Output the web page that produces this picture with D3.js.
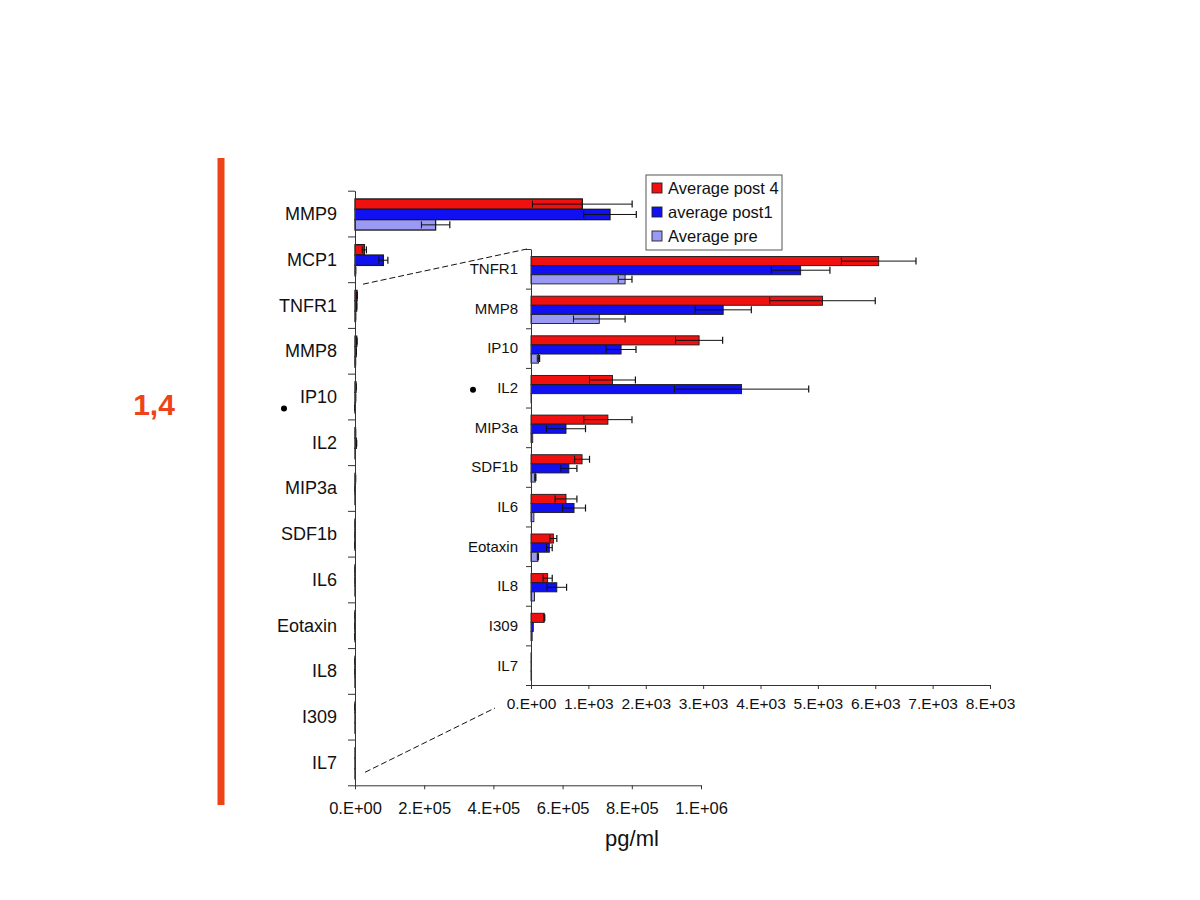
<!DOCTYPE html>
<html><head><meta charset="utf-8">
<script src="https://cdn.jsdelivr.net/npm/d3@7"></script>
<style>
html,body{margin:0;padding:0;background:#fff;}
svg{display:block;font-family:"Liberation Sans",Arial,sans-serif;}
</style></head>
<body>
<svg id="chart" width="1200" height="900"></svg>
<script>
// ---------------- data ----------------
const categories = ["MMP9","MCP1","TNFR1","MMP8","IP10","IL2","MIP3a","SDF1b","IL6","Eotaxin","IL8","I309","IL7"];
const insetCategories = categories.slice(2);
const seriesNames = ["Average post 4","average post1","Average pre"];
const post4    = [657000, 27000, 6060, 5080, 2930, 1420, 1340, 890, 610, 390, 290, 230, 10];
const post4Err = [144000,  6000,  650,  920,  410,  400,  420, 130, 190,  60,  80,  10,  0];
const post1    = [737000, 82000, 4700, 3350, 1570, 3670,  610, 660, 750, 320, 450,  40,  5];
const post1Err = [ 76000, 13000,  510,  490,  260, 1170,  340, 140, 200,  50, 170,   0,  0];
const pre      = [233000,  1500, 1640, 1190,  130,   10,   30,  75,  50, 120,  60,  20, 10];
const preErr   = [ 41000,   500,  120,  450,   20,    0,    0,  10,   0,  10,   0,   0,  0];
const mainTicks = [0, 200000, 400000, 600000, 800000, 1000000];
const mainTickLabels = ["0.E+00","2.E+05","4.E+05","6.E+05","8.E+05","1.E+06"];
const insetTicks = [0,1000,2000,3000,4000,5000,6000,7000,8000];
const insetTickLabels = ["0.E+00","1.E+03","2.E+03","3.E+03","4.E+03","5.E+03","6.E+03","7.E+03","8.E+03"];
const xLabel = "pg/ml";
const sideLabel = "1,4";

const colors = ["#f01010","#1010f0","#9a9af5"];
const seriesVals = [post4, post1, pre];
const seriesErrs = [post4Err, post1Err, preErr];

const rows = categories.map((c,i)=>({cat:c, vals:seriesVals.map(s=>s[i]), errs:seriesErrs.map(s=>s[i])}));

const svg = d3.select("#chart");

// side decoration
svg.append("line").attr("x1",221).attr("x2",221).attr("y1",158).attr("y2",805)
  .attr("stroke","#ee4317").attr("stroke-width",7);
svg.append("text").attr("x",154).attr("y",415).attr("text-anchor","middle")
  .attr("font-size",30).attr("font-weight","bold").attr("fill","#ee4317").text(sideLabel);

function drawChart(g, cats, x, yTop, yBot, opts){
  const y = d3.scaleBand().domain(cats).range([yTop,yBot]).padding(0);
  const bw = y.bandwidth();
  const ys = d3.scaleBand().domain([0,1,2]).range([bw*opts.gStart, bw*(opts.gStart+opts.gFrac)]).padding(0);
  const data = rows.filter(r=>cats.includes(r.cat));
  const grp = g.selectAll("g.cat").data(data).join("g").attr("class","cat")
    .attr("transform",d=>`translate(0,${y(d.cat)})`);
  grp.selectAll("rect").data(d=>d.vals.map((v,k)=>({v,k}))).join("rect")
    .attr("x",x(0)).attr("y",d=>ys(d.k)).attr("height",ys.bandwidth())
    .attr("width",d=>Math.max(0,x(d.v)-x(0)))
    .attr("fill",d=>colors[d.k]).attr("stroke","#1a1a1a").attr("stroke-width",opts.barStroke);
  const eb = grp.selectAll("g.err").data(d=>d.vals.map((v,k)=>({v,e:d.errs[k],k})).filter(o=>o.e>0))
    .join("g").attr("class","err");
  const cap = opts.cap;
  eb.append("line").attr("x1",d=>x(Math.max(0,d.v-d.e))).attr("x2",d=>x(d.v+d.e))
    .attr("y1",d=>ys(d.k)+ys.bandwidth()/2).attr("y2",d=>ys(d.k)+ys.bandwidth()/2)
    .attr("stroke","#111").attr("stroke-width",1);
  eb.append("line").attr("x1",d=>x(d.v+d.e)).attr("x2",d=>x(d.v+d.e))
    .attr("y1",d=>ys(d.k)+ys.bandwidth()/2-cap).attr("y2",d=>ys(d.k)+ys.bandwidth()/2+cap)
    .attr("stroke","#111").attr("stroke-width",1.2);
  eb.append("line").attr("x1",d=>x(Math.max(0,d.v-d.e))).attr("x2",d=>x(Math.max(0,d.v-d.e)))
    .attr("y1",d=>ys(d.k)+ys.bandwidth()/2-cap).attr("y2",d=>ys(d.k)+ys.bandwidth()/2+cap)
    .attr("stroke","#111").attr("stroke-width",1);

  // y axis: line, boundary ticks, labels
  const yIdx = d3.scaleLinear().domain([0,cats.length]).range([yTop,yBot]);
  const ya = g.append("g").attr("transform",`translate(${x(0)},0)`)
    .call(d3.axisLeft(yIdx).tickValues(d3.range(cats.length+1)).tickFormat("").tickSize(opts.yTick).tickSizeOuter(0));
  ya.select(".domain").attr("stroke","#333");
  ya.selectAll(".tick line").attr("stroke","#333");
  g.append("g").selectAll("text").data(cats).join("text")
    .attr("x",x(0)-opts.labelGap).attr("y",d=>y(d)+bw/2).attr("dy","0.36em")
    .attr("text-anchor","end").attr("font-size",opts.labelSize).attr("fill","#111").text(d=>d);

  // x axis
  const xa = g.append("g").attr("transform",`translate(0,${yBot})`)
    .call(d3.axisBottom(x).tickValues(opts.ticks).tickFormat((d,i)=>opts.tickLabels[i]).tickSize(4).tickSizeOuter(0).tickPadding(opts.tickPad));
  xa.select(".domain").attr("stroke","#333");
  xa.selectAll(".tick line").attr("stroke","#333");
  xa.selectAll(".tick text").attr("font-size",opts.tickSize).attr("fill","#111")
    .attr("font-family","'Liberation Sans',Arial,sans-serif");
  return y;
}

// main chart
const xMain = d3.scaleLinear().domain([0,1000000]).range([355,701]);
const mainTop = 190.7, mainBot = 785.3;
const gMain = svg.append("g");
const yMain = drawChart(gMain, categories, xMain, mainTop, mainBot,
  {gStart:0.18, gFrac:0.68, cap:3.5, yTick:7, labelGap:18, labelSize:18, ticks:mainTicks, tickLabels:mainTickLabels, tickSize:16.5, tickPad:13, barStroke:1.3});

// inset chart
const xIn = d3.scaleLinear().domain([0,8000]).range([531,990]);
const inTop = 249, inBot = 685;
const gIn = svg.append("g");
const yIn = drawChart(gIn, insetCategories, xIn, inTop, inBot,
  {gStart:0.19, gFrac:0.69, cap:3.5, yTick:5, labelGap:13, labelSize:15, ticks:insetTicks, tickLabels:insetTickLabels, tickSize:15.5, tickPad:9, barStroke:0.9});

// zoom connector dashed lines
svg.append("line").attr("x1",xMain(0)+8).attr("y1",yMain("TNFR1")+2)
  .attr("x2",xIn(0)-4).attr("y2",inTop).attr("stroke","#111").attr("stroke-dasharray","6,3").attr("stroke-width",1);
svg.append("line").attr("x1",xMain(0)+10).attr("y1",mainBot-13)
  .attr("x2",xIn(0)-36).attr("y2",inBot+23).attr("stroke","#111").attr("stroke-dasharray","6,3").attr("stroke-width",1);

// dots
svg.append("circle").attr("cx",284).attr("cy",yMain("IP10")+yMain.bandwidth()/2+12).attr("r",3).attr("fill","#000");
svg.append("circle").attr("cx",473).attr("cy",yIn("IL2")+yIn.bandwidth()/2+2).attr("r",3).attr("fill","#000");

// x label
svg.append("text").attr("x",632).attr("y",846).attr("text-anchor","middle").attr("font-size",22).attr("fill","#111").text(xLabel);

// legend
const lg = svg.append("g").attr("transform","translate(646,175)");
lg.append("rect").attr("x",0).attr("y",0).attr("width",136).attr("height",75).attr("fill","#fff").attr("stroke","#555").attr("stroke-width",1);
const li = lg.selectAll("g.li").data(seriesNames).join("g").attr("class","li")
  .attr("transform",(d,i)=>`translate(6,${13+i*24})`);
li.append("rect").attr("x",0).attr("y",-5).attr("width",10).attr("height",10)
  .attr("fill",(d,i)=>colors[i]).attr("stroke","#222").attr("stroke-width",0.9);
li.append("text").attr("x",16).attr("y",0).attr("dy","0.36em").attr("font-size",16.5).attr("fill","#111").text(d=>d);
</script>
</body></html>
